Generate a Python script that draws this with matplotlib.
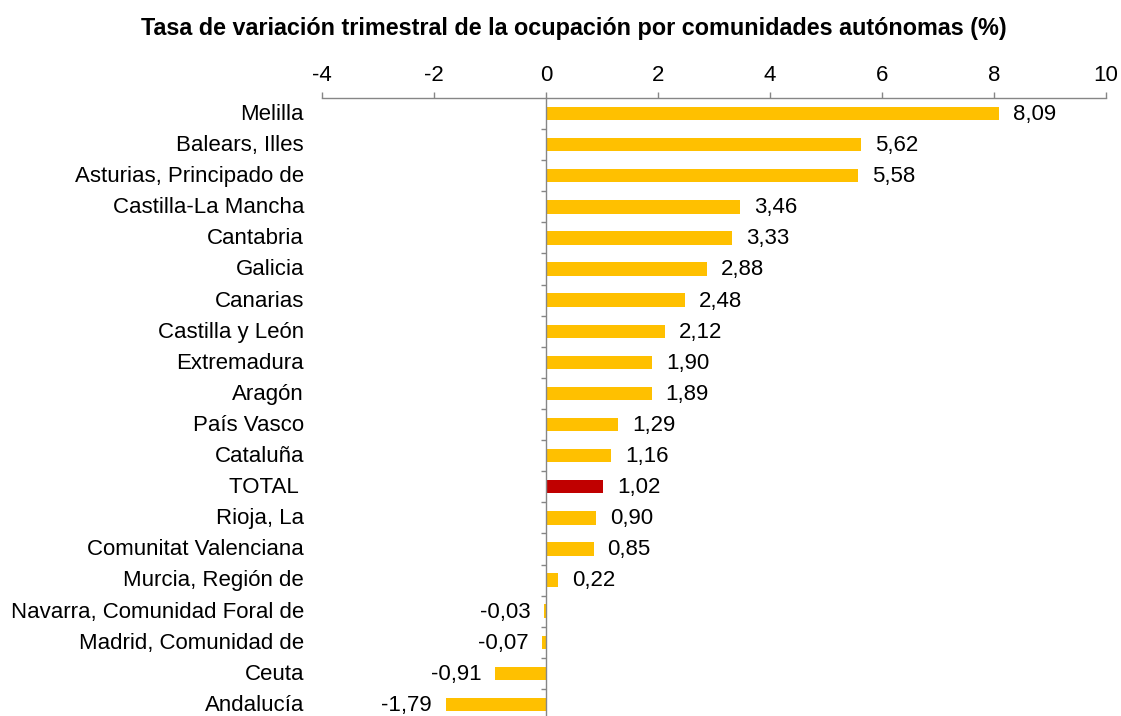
import matplotlib
matplotlib.use("Agg")
import matplotlib.pyplot as plt
from matplotlib.ticker import FixedLocator
import matplotlib.transforms as mtransforms

plt.rcParams['font.family'] = ['Liberation Sans', 'DejaVu Sans']

title = "Tasa de variación trimestral de la ocupación por comunidades autónomas (%)"
regions = ["Melilla", "Balears, Illes", "Asturias, Principado de", "Castilla-La Mancha",
           "Cantabria", "Galicia", "Canarias", "Castilla y León", "Extremadura", "Aragón",
           "País Vasco", "Cataluña", "TOTAL ", "Rioja, La", "Comunitat Valenciana",
           "Murcia, Región de", "Navarra, Comunidad Foral de", "Madrid, Comunidad de",
           "Ceuta", "Andalucía"]
values = [8.09, 5.62, 5.58, 3.46, 3.33, 2.88, 2.48, 2.12, 1.90, 1.89, 1.29, 1.16,
          1.02, 0.90, 0.85, 0.22, -0.03, -0.07, -0.91, -1.79]
xticks = [-4, -2, 0, 2, 4, 6, 8, 10]

YELLOW = "#FFC000"
RED = "#C00000"
GREY = "#868686"
FS = 16

W, H = 1121, 716
fig = plt.figure(figsize=(W / 100, H / 100), dpi=100)
ax = fig.add_axes([322 / W, 1 - 720 / H, 784 / W, (720 - 98) / H])

n = len(regions)
ypos = list(range(n))
colors = [RED if r.strip() == "TOTAL" else YELLOW for r in regions]
ax.barh(ypos, values, height=0.43, color=colors, zorder=2)

ax.set_xlim(-4, 10)
ax.set_ylim(n - 0.5, -0.5)

# x axis on top
ax.xaxis.tick_top()
ax.set_xticks(xticks)
ax.set_xticklabels([str(t) for t in xticks])
ax.tick_params(axis='x', which='major', direction='out', length=4.3, width=1,
               color=GREY, labelsize=FS, pad=4, top=True, bottom=False)
ax.spines['bottom'].set_visible(False)
ax.spines['left'].set_visible(False)
ax.spines['top'].set_color(GREY)
ax.spines['top'].set_linewidth(1)

# zero line with category-boundary ticks
ax.spines['right'].set_position(('data', 0))
ax.spines['right'].set_color(GREY)
ax.spines['right'].set_linewidth(1)
ax.yaxis.set_major_locator(FixedLocator([]))
ax.yaxis.set_minor_locator(FixedLocator([i + 0.5 for i in range(n - 1)]))
ax.tick_params(axis='y', which='minor', left=False, right=True, direction='in',
               length=3.6, width=1, color=GREY)
ax.tick_params(axis='y', which='major', left=False, right=False,
               labelleft=False, labelright=False)

# category labels
trans = mtransforms.blended_transform_factory(ax.transAxes, ax.transData)
for y, r in zip(ypos, regions):
    ax.text(-18 / 784, y + 0.03, r, transform=trans, ha='right', va='center',
            fontsize=FS, color='black')

# value labels
for y, v in zip(ypos, values):
    s = f"{v:.2f}".replace('.', ',')
    if v >= 0:
        ax.annotate(s, (v, y + 0.03), xytext=(10, 0), textcoords='offset points',
                    ha='left', va='center', fontsize=FS)
    else:
        ax.annotate(s, (v, y + 0.03), xytext=(-10, 0), textcoords='offset points',
                    ha='right', va='center', fontsize=FS)

fig.text(573.5 / W, 1 - 28 / H, title, ha='center', va='center',
         fontsize=16.8, fontweight='bold')

fig.savefig("out.png", dpi=100)
